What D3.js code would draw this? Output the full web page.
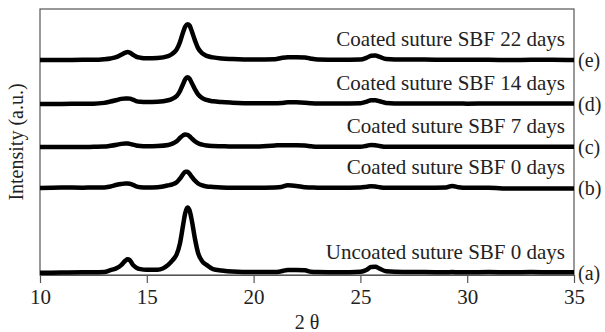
<!DOCTYPE html>
<html>
<head>
<meta charset="utf-8">
<script src="https://cdn.jsdelivr.net/npm/d3@7"></script>
<style>
  body { margin: 0; background: #fff; }
</style>
</head>
<body>
<div id="chart"></div>
<script>
// 2 theta sample positions (shared by all patterns)
const twoTheta = [10, 11, 12, 12.5, 13, 13.3, 13.6, 13.8, 14.0, 14.1, 14.2, 14.35, 14.5, 14.7, 15, 15.5,
  16, 16.2, 16.4, 16.55, 16.7, 16.8, 16.9, 17.0, 17.1, 17.25, 17.4, 17.6, 17.8, 18.1, 18.5, 19,
  20, 21, 21.3, 21.6, 22.0, 22.4, 22.7, 23, 24, 25, 25.3, 25.5, 25.7, 25.9, 26.2, 27, 28, 29,
  29.3, 29.6, 30, 31, 32, 33, 34, 35];

// intensities above each pattern's own baseline (a.u.)
const uncoated0 = [0, 0.1, 0.2, 0.2, 0.3, 1.0, 1.8, 2.9, 4.6, 5.1, 4.8, 3.0, 2.0, 1.4, 1.2, 1.2,
  3.0, 4.7, 7.0, 11, 18, 22.5, 24.6, 23.5, 20, 13, 7.5, 4.3, 3.0, 1.4, 0.9, 0.5,
  0.3, 0.3, 0.6, 1.1, 1.1, 1.0, 0.4, 0.3, 0.2, 0.4, 1.2, 2.2, 2.3, 1.6, 0.6, 0.3, 0.3, 0.2,
  0.3, 0.2, 0.2, 0.3, 0.2, 0.3, 0.2, 0.2];
const coated0 = [0, 0.2, 0.1, 0.2, 0.2, 0.6, 1.2, 1.5, 1.7, 1.7, 1.6, 1.2, 0.6, 0.3, 0.2, 0.3,
  1.0, 1.4, 2.2, 3.5, 5.2, 6.1, 6.1, 5.4, 4.3, 2.8, 1.7, 1.0, 0.6, 0.4, 0.2, 0.1,
  0.1, 0.2, 0.4, 1.0, 0.8, 0.3, 0.2, 0.1, 0.1, 0.2, 0.5, 0.7, 0.6, 0.3, 0.1, 0.1, 0.1, 0.2,
  0.8, 0.3, 0.1, 0.1, -0.2, -0.2, -0.2, -0.2];
const coated7 = [0, 0, 0, 0.1, 0.2, 0.5, 0.9, 1.2, 1.3, 1.3, 1.2, 0.9, 0.6, 0.4, 0.3, 0.4,
  0.8, 1.3, 2.2, 3.4, 4.4, 4.7, 4.6, 4.1, 3.3, 2.2, 1.4, 0.9, 0.6, 0.4, 0.3, 0.2,
  0.2, 0.6, 0.7, 0.7, 0.7, 0.6, 0.3, 0.1, 0.1, 0.1, 0.5, 0.8, 0.7, 0.4, 0.1, 0.1, 0.1, 0.1,
  0.1, 0.1, 0.1, 0.1, 0.1, 0.1, 0.1, 0.1];
const coated14 = [0, 0, 0.1, 0.1, 0.4, 0.9, 1.5, 1.9, 2.1, 2.1, 2.0, 1.6, 1.1, 0.8, 0.7, 0.8,
  1.4, 2.0, 3.0, 4.8, 7.5, 9.3, 10, 9.5, 8.0, 5.6, 3.6, 2.2, 1.5, 1.0, 0.7, 0.5,
  0.3, 0.3, 0.4, 0.6, 0.6, 0.5, 0.3, 0.2, 0.2, 0.3, 0.9, 1.4, 1.4, 1.0, 0.4, 0.2, 0.2, 0.2,
  0.2, 0.2, 0.1, 0.2, 0.2, 0.2, 0.2, 0.2];
const coated22 = [0, 0, 0.1, 0.1, 0.3, 0.6, 1.2, 2.0, 2.8, 3.0, 2.8, 2.0, 1.3, 0.9, 0.7, 0.8,
  1.5, 2.4, 4.0, 6.7, 10.5, 12.6, 13.5, 13.0, 11.0, 7.5, 4.5, 2.5, 1.6, 1.0, 0.6, 0.4,
  0.2, 0.3, 0.8, 1.1, 1.1, 1.0, 0.5, 0.2, 0.1, 0.2, 0.9, 1.6, 1.7, 1.2, 0.4, 0.2, 0.2, 0.1,
  0.1, 0.1, 0.1, 0.1, 0, 0.1, 0.1, 0];

// stacking offsets, series names and letters (bottom to top)
const offsets = [0.8, 32.7, 48.1, 64.3, 80.8];
const seriesNames = ["Uncoated suture SBF 0 days", "Coated suture SBF 0 days", "Coated suture SBF 7 days",
  "Coated suture SBF 14 days", "Coated suture SBF 22 days"];
const seriesLetters = ["(a)", "(b)", "(c)", "(d)", "(e)"];
const xTicks = [10, 15, 20, 25, 30, 35];

const series = [uncoated0, coated0, coated7, coated14, coated22];
const serif = "'Liberation Serif', 'Times New Roman', serif";

const margin = {top: 9, right: 31, bottom: 57, left: 40},
  width = 605 - margin.left - margin.right,
  height = 332 - margin.top - margin.bottom;

const svg = d3.select("#chart")
  .append("svg")
  .attr("width", 605)
  .attr("height", 332)
  .append("g")
  .attr("transform", `translate(${margin.left},${margin.top})`);

const x = d3.scaleLinear().domain([10, 35]).range([0, width]);
const y = d3.scaleLinear().domain([0, 100]).range([height, 0]);

// frame
svg.append("rect")
  .attr("width", width)
  .attr("height", height)
  .attr("fill", "none")
  .attr("stroke", "#555")
  .attr("stroke-width", 1.2);

// patterns (clipped to the frame)
svg.append("clipPath").attr("id", "plotclip")
  .append("rect").attr("width", width).attr("height", height + 3);

const line = d3.line().curve(d3.curveMonotoneX);
series.forEach((vals, i) => {
  svg.append("path")
    .datum(vals.map((v, j) => [x(twoTheta[j]), y(v + offsets[i])]))
    .attr("d", line)
    .attr("clip-path", "url(#plotclip)")
    .attr("fill", "none")
    .attr("stroke", "#000")
    .attr("stroke-width", 4.5)
    .attr("stroke-linejoin", "round");

  svg.append("text")
    .attr("x", width - 9)
    .attr("y", y(offsets[i]) - 14)
    .attr("text-anchor", "end")
    .style("font-family", serif)
    .style("font-size", "21px")
    .attr("fill", "#222")
    .text(seriesNames[i]);

  svg.append("text")
    .attr("x", width + 4)
    .attr("y", y(offsets[i]) + 7)
    .style("font-family", serif)
    .style("font-size", "20px")
    .attr("fill", "#222")
    .text(seriesLetters[i]);
});

// x axis
const xAxis = svg.append("g")
  .attr("transform", `translate(0,${height})`)
  .call(d3.axisBottom(x).tickValues(xTicks).tickSize(8).tickSizeOuter(0).tickPadding(6));
xAxis.select(".domain").attr("stroke", "#555").attr("stroke-width", 1.2);
xAxis.selectAll(".tick line").attr("stroke", "#555").attr("stroke-width", 1.2);
xAxis.selectAll("text")
  .style("font-family", serif)
  .style("font-size", "21px")
  .attr("fill", "#222");

// axis titles
svg.append("text")
  .attr("transform", `translate(-17,${height / 2}) rotate(-90)`)
  .attr("text-anchor", "middle")
  .style("font-family", serif)
  .style("font-size", "20px")
  .attr("fill", "#222")
  .text("Intensity (a.u.)");

svg.append("text")
  .attr("x", width / 2)
  .attr("y", height + 54)
  .attr("text-anchor", "middle")
  .style("font-family", serif)
  .style("font-size", "20px")
  .attr("fill", "#222")
  .text("2 θ");
</script>
</body>
</html>
